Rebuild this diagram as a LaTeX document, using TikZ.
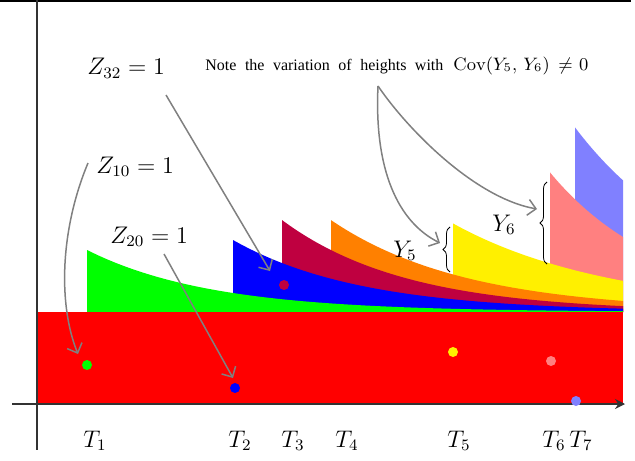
\documentclass[tikz,border=0pt]{standalone}
\usepackage{fontspec}
\newfontfamily\notefont{Liberation Serif}
\usetikzlibrary{arrows.meta,decorations.pathreplacing}
\definecolor{cgreen}{RGB}{0,255,0}
\definecolor{cblue}{RGB}{0,0,255}
\definecolor{cpurple}{RGB}{191,0,64}
\definecolor{corange}{RGB}{255,128,0}
\definecolor{cyellow}{RGB}{255,240,0}
\definecolor{cpink}{RGB}{255,128,128}
\definecolor{clav}{RGB}{128,128,255}
\definecolor{cred}{RGB}{255,0,0}
\tikzset{
  axisline/.style={line width=0.65pt, draw=black!80},
  pointer/.style={line width=0.75pt, draw=gray, -{Straight Barb[length=4pt,width=8pt]}},
  dotmark/.style={circle, inner sep=0pt, minimum size=5pt},
  lbl/.style={anchor=base west, inner sep=0pt, font=\large},
  bracelabel/.style={decorate, decoration={brace, amplitude=3.5pt}, line width=0.4pt},
}
\begin{document}
\begin{tikzpicture}[x=0.5pt, y=-0.5pt,
  declare function={
    fa(\x)=62*exp(-0.0081*(\x-87));
    fb(\x)=53*exp(-0.0078*(\x-233));
    fc(\x)=43*exp(-0.0083*(\x-282));
    fd(\x)=30*exp(-0.006*(\x-331));
    fe(\x)=51*exp(-0.0055*(\x-453));
    ff(\x)=91*exp(-0.010*(\x-550));
    fg(\x)=72*exp(-0.005*(\x-575));
  }]
\useasboundingbox (0,0) rectangle (635,460);
% stacked decaying areas, drawn from the top layer down
\fill[clav] (575,312) -- plot[domain=575:623, samples=30] (\x,{312-fa(\x)-fb(\x)-fc(\x)-fd(\x)-fe(\x)-ff(\x)-fg(\x)}) -- (623,312) -- cycle;
\fill[cpink] (550,312) -- plot[domain=550:623, samples=40] (\x,{312-fa(\x)-fb(\x)-fc(\x)-fd(\x)-fe(\x)-ff(\x)}) -- (623,312) -- cycle;
\fill[cyellow] (453,312) -- plot[domain=453:623, samples=60] (\x,{312-fa(\x)-fb(\x)-fc(\x)-fd(\x)-fe(\x)}) -- (623,312) -- cycle;
\fill[corange] (331,312) -- plot[domain=331:623, samples=80] (\x,{312-fa(\x)-fb(\x)-fc(\x)-fd(\x)}) -- (623,312) -- cycle;
\fill[cpurple] (282,312) -- plot[domain=282:623, samples=80] (\x,{312-fa(\x)-fb(\x)-fc(\x)}) -- (623,312) -- cycle;
\fill[cblue] (233,312) -- plot[domain=233:623, samples=90] (\x,{312-fa(\x)-fb(\x)}) -- (623,312) -- cycle;
\fill[cgreen] (87,312) -- plot[domain=87:623, samples=100] (\x,{312-fa(\x)}) -- (623,312) -- cycle;
\fill[cred] (37,312) rectangle (623,404);
% axes and frame line
\draw[line width=1pt] (0,1) -- (631,1);
\draw[axisline] (37,0) -- (37,450);
\draw[axisline, -{Stealth[length=5pt,width=5pt]}] (12,404) -- (625,404);
% dots
\node[dotmark, fill=cgreen] (d1) at (87,365) {};
\node[dotmark, fill=cblue] (d2) at (235,388) {};
\node[dotmark, fill=cpurple] (d3) at (284,285) {};
\node[dotmark, fill=cyellow] (d5) at (453,352) {};
\node[dotmark, fill=cpink] (d6) at (551,361) {};
\node[dotmark, fill=clav] (d7) at (576,401) {};
% time labels
\node[lbl] (t1) at (83,447) {$T_1$};
\node[lbl] (t2) at (228,447) {$T_2$};
\node[lbl] (t3) at (281,447) {$T_3$};
\node[lbl] (t4) at (335,447) {$T_4$};
\node[lbl] (t5) at (447,447) {$T_5$};
\node[lbl] (t6) at (542,447) {$T_6$};
\node[lbl] (t7) at (569,447) {$T_7$};
% Z labels
\node[lbl] (z32) at (87,75) {$Z_{32}=1$};
\node[lbl] (z10) at (96,173) {$Z_{10}=1$};
\node[lbl] (z20) at (110,243) {$Z_{20}=1$};
% Y labels and braces
\node[lbl] (y5) at (393,257) {$Y_5$};
\node[lbl] (y6) at (492,231) {$Y_6$};
\coordinate (b5a) at (450,272);
\coordinate (b5b) at (450,227);
\coordinate (b6a) at (547,264);
\coordinate (b6b) at (547,182);
\draw[bracelabel] (b5a) -- (b5b);
\draw[bracelabel] (b6a) -- (b6b);
% note
\node[anchor=base west, inner sep=0pt] (note) at (205,70) {\makebox[119pt][s]{\notefont\footnotesize Note the variation of heights with}\hspace{5pt}\makebox[67.5pt][s]{\small$\mathrm{Cov}(Y_5,$\hspace{2pt plus 1fil}$Y_6)$\hspace{2pt plus 2fil}$\neq$\hspace{2pt plus 1fil}$0$}};
% pointers
\coordinate (s10) at (88,163);
\coordinate (e10) at (78,354);
\coordinate (s20) at (164,254);
\coordinate (e20) at (233,378);
\coordinate (s32) at (166,95);
\coordinate (e32) at (270,271);
\coordinate (sn) at (378,86);
\coordinate (e5) at (440,243);
\coordinate (e6) at (537,209);
\draw[pointer] (s10) .. controls (60,230) and (58,305) .. (e10);
\draw[pointer] (s20) -- (e20);
\draw[pointer] (s32) -- (e32);
\draw[pointer] (sn) .. controls (374,170) and (398,222) .. (e5);
\draw[pointer] (sn) .. controls (408,130) and (475,198) .. (e6);
\end{tikzpicture}
\end{document}
